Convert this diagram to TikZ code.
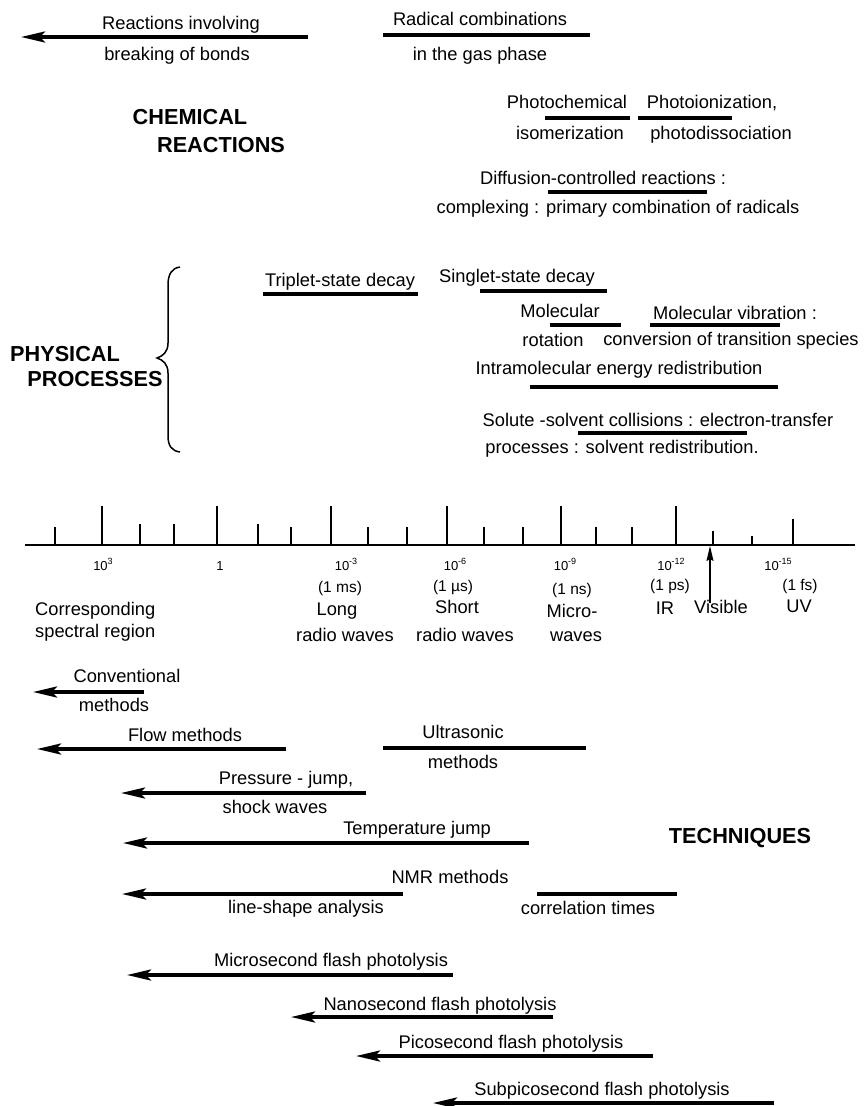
\documentclass[tikz,border=0pt]{standalone}
\usepackage{fontspec}
\setmainfont{Liberation Sans}
\usetikzlibrary{arrows.meta}
\newcommand\supr[1]{\raisebox{0.45em}{\fontsize{9}{9}\selectfont #1}}
\newcommand\mkbar[4]{\coordinate (#1a) at (#2,#4); \coordinate (#1b) at (#3,#4); \draw[barline] (#1a) -- (#1b);}
\newcommand\mkarr[4]{\coordinate (#1s) at (#2,#4); \coordinate (#1t) at (#3,#4); \draw[arrline] (#1s) -- (#1t);}
\begin{document}
\begin{tikzpicture}[x=1pt,y=-1pt,
  lbl/.style={font=\fontsize{18.3}{20}\selectfont, inner sep=0pt, anchor=base},
  hd/.style={font=\fontsize{21.7}{24}\selectfont\bfseries, inner sep=0pt, anchor=base},
  tk/.style={font=\fontsize{13}{14}\selectfont, inner sep=0pt, anchor=base},
  un/.style={font=\fontsize{15.5}{17}\selectfont, inner sep=0pt, anchor=base},
  barline/.style={line width=3.5pt},
  arrline/.style={line width=3.5pt, -{Stealth[length=24pt,width=11pt,inset=5pt]}},
  tickline/.style={line width=1.4pt},
  thinarrow/.style={line width=1.3pt, -{Stealth[length=15pt,width=7pt,inset=2pt]}},
]
\useasboundingbox (0,0) rectangle (863,1106);

% ---------------- CHEMICAL REACTIONS ----------------
\node[lbl] (rinv) at (181,29) {Reactions involving};
\mkarr{reac}{308}{21}{37}
\node[lbl] (brk) at (177,60) {breaking of bonds};

\node[lbl] (radc) at (480,25) {Radical combinations};
\mkbar{radl}{383}{590}{35}
\node[lbl] (gas) at (480,60) {in the gas phase};

\node[hd] (chem) at (190,124) {CHEMICAL};
\node[hd] (react) at (221,152) {REACTIONS};

\node[lbl] (phch) at (567,108) {Photochemical};
\mkbar{phchl}{545}{630}{118}
\node[lbl] (isom) at (570,139) {isomerization};

\node[lbl] (phion) at (712,108) {Photoionization,};
\mkbar{phionl}{638}{732}{118}
\node[lbl] (phdis) at (721,139) {photodissociation};

\node[lbl] (diff) at (603,184) {Diffusion-controlled reactions :};
\mkbar{diffl}{548}{707}{192}
\node[lbl] (cplx) at (618,213) {complexing : primary combination of radicals};

% ---------------- PHYSICAL PROCESSES ----------------
\node[hd] (phys) at (65,361) {PHYSICAL};
\node[hd] (proc) at (95,386) {PROCESSES};
\draw[line width=1.5pt] (180,267) .. controls (172,268) and (168,274) .. (168,285)
  -- (168,343) .. controls (168,352) and (163,356) .. (157,358)
  .. controls (163,360) and (168,364) .. (168,373)
  -- (168,436) .. controls (168,446) and (172,451) .. (180,452);

\node[lbl] (trip) at (340,286) {Triplet-state decay};
\mkbar{tripl}{263}{418}{294}
\node[lbl] (sing) at (517,282) {Singlet-state decay};
\mkbar{singl}{480}{607}{291}

\node[lbl] (molr) at (560,317) {Molecular};
\mkbar{molrl}{550}{621}{325}
\node[lbl] (rot) at (553,346) {rotation};

\node[lbl] (molv) at (735,319) {Molecular vibration :};
\mkbar{molvl}{650}{780}{325}
\node[lbl] (conv) at (731,345) {conversion of transition species};

\node[lbl] (intra) at (619,374) {Intramolecular energy redistribution};
\mkbar{intral}{530}{778}{387}

\node[lbl] (solu) at (658,426) {Solute -solvent collisions : electron-transfer};
\mkbar{solul}{578}{747}{433}
\node[lbl] (procs) at (622,453) {processes : solvent redistribution.};

% ---------------- TIME AXIS ----------------
\coordinate (axl) at (25,545);
\coordinate (axr) at (855,545);
\draw[line width=2.6pt] (axl) -- (axr);
\foreach \x/\t in {55/527,102/506,140/524,174/524,217/506,258/524,291/527,331/506,368/527,407/527,447/506,484/527,523/527,561/506,596/527,632/527,676/506,713/531,752/536,793/519}
  \draw[tickline] (\x,545) -- (\x,\t);

\node[tk] (t3) at (103,570) {10\supr{3}};
\node[tk] (t0) at (220,570) {1};
\node[tk] (tm3) at (346,570) {10\supr{-3}};
\node[tk] (tm6) at (455,570) {10\supr{-6}};
\node[tk] (tm9) at (565,570) {10\supr{-9}};
\node[tk] (tm12) at (671,570) {10\supr{-12}};
\node[tk] (tm15) at (778,570) {10\supr{-15}};

\node[un] (ums) at (340,592) {(1 ms)};
\node[un] (uus) at (453,591) {(1 µs)};
\node[un] (uns) at (572,594) {(1 ns)};
\node[un] (ups) at (670,590) {(1 ps)};
\node[un] (ufs) at (800,590) {(1 fs)};

\node[lbl] (long) at (337,615) {Long};
\node[lbl] (lrw) at (345,641) {radio waves};
\node[lbl] (short) at (457,613) {Short};
\node[lbl] (srw) at (465,641) {radio waves};
\node[lbl] (micro) at (572,617) {Micro-};
\node[lbl] (mw) at (576,641) {waves};
\node[lbl] (ir) at (665,614) {IR};
\node[lbl] (vis) at (721,613) {Visible};
\node[lbl] (uv) at (799,612) {UV};
\coordinate (visb) at (710,603);
\coordinate (vist) at (710,546);
\draw[thinarrow] (visb) -- (vist);

\node[lbl, anchor=base west] (corr) at (35,615) {Corresponding};
\node[lbl, anchor=base west] (spec) at (35,637) {spectral region};

% ---------------- TECHNIQUES ----------------
\node[lbl] (convm) at (127,682) {Conventional};
\mkarr{conva}{144}{33}{692}
\node[lbl] (convm2) at (114,711) {methods};

\node[lbl] (flow) at (185,741) {Flow methods};
\mkarr{flowa}{286}{37}{749}

\node[lbl] (ultra) at (463,738) {Ultrasonic};
\mkbar{ultral}{383}{586}{748}
\node[lbl] (ultra2) at (463,768) {methods};

\node[lbl] (press) at (286,784) {Pressure - jump,};
\mkarr{pressa}{366}{121}{793}
\node[lbl] (shock) at (275,813) {shock waves};

\node[lbl] (temp) at (417,834) {Temperature jump};
\mkarr{tempa}{529}{123}{843}

\node[hd] (tech) at (740,843) {TECHNIQUES};

\node[lbl] (nmr) at (450,883) {NMR methods};
\mkarr{nmra}{403}{122}{894}
\node[lbl] (lsa) at (306,913) {line-shape analysis};
\mkbar{nmrl}{537}{677}{894}
\node[lbl] (ctime) at (588,914) {correlation times};

\node[lbl] (micf) at (331,966) {Microsecond flash photolysis};
\mkarr{micfa}{453}{127}{975}

\node[lbl] (nanf) at (440,1010) {Nanosecond flash photolysis};
\mkarr{nanfa}{553}{291}{1017}

\node[lbl] (picf) at (511,1048) {Picosecond flash photolysis};
\mkarr{picfa}{653}{356}{1056}

\node[lbl] (subf) at (602,1095) {Subpicosecond flash photolysis};
\mkarr{subfa}{774}{433}{1103}
\end{tikzpicture}
\end{document}
